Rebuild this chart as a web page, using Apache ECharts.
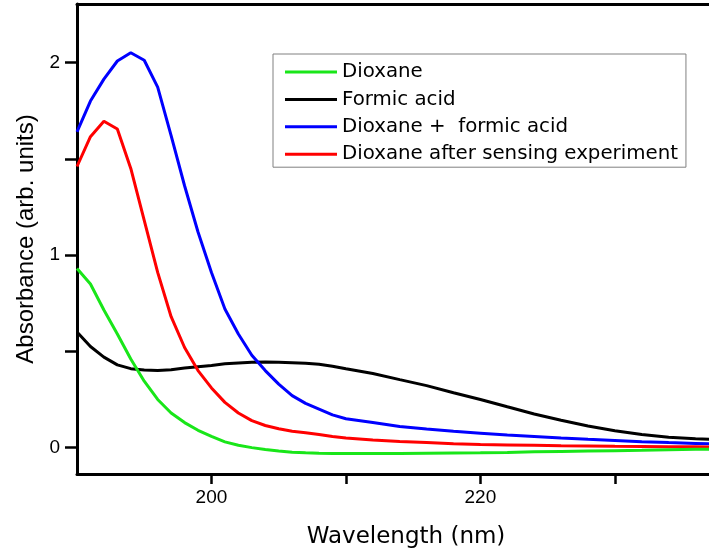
<!DOCTYPE html>
<html>
<head>
<meta charset="utf-8">
<script src="https://cdn.jsdelivr.net/npm/echarts@6/dist/echarts.min.js"></script>
<style>
html,body{margin:0;padding:0;background:#fff;}
#chart{width:709px;height:554px;}
</style>
</head>
<body>
<div id="chart"></div>
<script>
// Wavelength (nm)
var wavelength = [190,191,192,193,194,195,196,197,198,199,200,201,202,203,204,205,206,207,208,209,210,212,214,216,218,220,222,224,226,228,230,232,234,236,238,240];
var dioxane = [0.93,0.85,0.715,0.59,0.46,0.345,0.25,0.18,0.13,0.09,0.058,0.03,0.012,0.0,-0.01,-0.018,-0.024,-0.027,-0.029,-0.030,-0.031,-0.031,-0.030,-0.029,-0.028,-0.027,-0.025,-0.022,-0.020,-0.018,-0.016,-0.014,-0.011,-0.009,-0.007,-0.005];
var formicAcid = [0.60,0.525,0.47,0.43,0.41,0.403,0.40,0.405,0.413,0.42,0.427,0.435,0.44,0.443,0.445,0.444,0.441,0.438,0.433,0.423,0.41,0.385,0.353,0.322,0.285,0.25,0.212,0.175,0.142,0.112,0.088,0.068,0.054,0.046,0.04,0.035];
var dioxaneFormic = [1.64,1.80,1.914,2.008,2.051,2.012,1.872,1.62,1.36,1.12,0.91,0.72,0.59,0.48,0.40,0.33,0.27,0.23,0.20,0.17,0.15,0.13,0.11,0.097,0.085,0.075,0.065,0.058,0.05,0.043,0.037,0.031,0.026,0.022,0.018,0.015];
var dioxaneAfter = [1.46,1.615,1.695,1.655,1.45,1.18,0.91,0.68,0.52,0.40,0.31,0.235,0.18,0.14,0.115,0.098,0.085,0.077,0.068,0.058,0.05,0.04,0.032,0.026,0.02,0.016,0.014,0.012,0.010,0.009,0.007,0.006,0.005,0.004,0.003,0.002];
var seriesNames = ['Dioxane','Formic acid','Dioxane +  formic acid','Dioxane after sensing experiment'];
var xTickLabels = [200, 220];
var xTicks = [200, 210, 220, 230];
var yTickLabels = [0, 1, 2];
var yTicks = [0, 0.5, 1, 1.5, 2];

function pairs(ys){ return wavelength.map(function(x,i){ return [x, ys[i]]; }); }

var colors = ['#19e619','#000000','#0000ff','#ff0000'];
var datasets = [dioxane, formicAcid, dioxaneFormic, dioxaneAfter];

var chart = echarts.init(document.getElementById('chart'));
var sans = '"Liberation Sans", Arial, sans-serif';
var wide = '"DejaVu Sans", sans-serif';
chart.setOption({
  backgroundColor: '#ffffff',
  animation: false,
  textStyle: {fontFamily: sans},
  grid: {left: 77, right: 0, top: 4, bottom: 74, containLabel: false},
  legend: {
    orient: 'vertical', left: 273, top: 54,
    data: seriesNames,
    icon: 'rect', itemWidth: 52, itemHeight: 3, itemGap: 7.4,
    backgroundColor: '#ffffff', borderColor: '#808080', borderWidth: 1,
    padding: [8, 8, 3, 12],
    textStyle: {fontSize: 19.8, color: '#000', fontFamily: wide, lineHeight: 20}
  },
  xAxis: [{
    type: 'value', min: 190, max: 237,
    name: 'Wavelength (nm)', nameLocation: 'middle', nameGap: 52,
    nameTextStyle: {fontSize: 23, color: '#000', fontFamily: wide, padding: [0, 0, 0, 26]},
    axisLine: {show: true, onZero: false, lineStyle: {color: '#000', width: 3}},
    axisTick: {show: true, customValues: xTicks, length: 10, lineStyle: {color: '#000', width: 2.5}},
    axisLabel: {customValues: xTickLabels, fontSize: 19, color: '#000', margin: 14, fontFamily: sans},
    splitLine: {show: false}
  },{
    type: 'value', min: 190, max: 237, position: 'top',
    axisLine: {show: true, onZero: false, lineStyle: {color: '#000', width: 3}},
    axisTick: {show: false}, axisLabel: {show: false}, splitLine: {show: false}
  }],
  yAxis: {
    type: 'value', min: -0.137, max: 2.304,
    name: 'Absorbance (arb. units)', nameLocation: 'middle', nameGap: 38, nameRotate: 90,
    nameTextStyle: {fontSize: 24, color: '#000', fontFamily: sans},
    axisLine: {show: true, onZero: false, lineStyle: {color: '#000', width: 3}},
    axisTick: {show: true, customValues: yTicks, length: 12, lineStyle: {color: '#000', width: 2.5}},
    axisLabel: {customValues: yTickLabels, fontSize: 19, color: '#000', margin: 17, fontFamily: sans},
    splitLine: {show: false}
  },
  series: datasets.map(function(d, i){
    return {
      name: seriesNames[i], type: 'line', data: pairs(d),
      showSymbol: false, symbol: 'none', smooth: false,
      lineStyle: {color: colors[i], width: 3},
      itemStyle: {color: colors[i]},
      clip: true, z: i === 0 ? 5 : 4
    };
  })
});
</script>
</body>
</html>
